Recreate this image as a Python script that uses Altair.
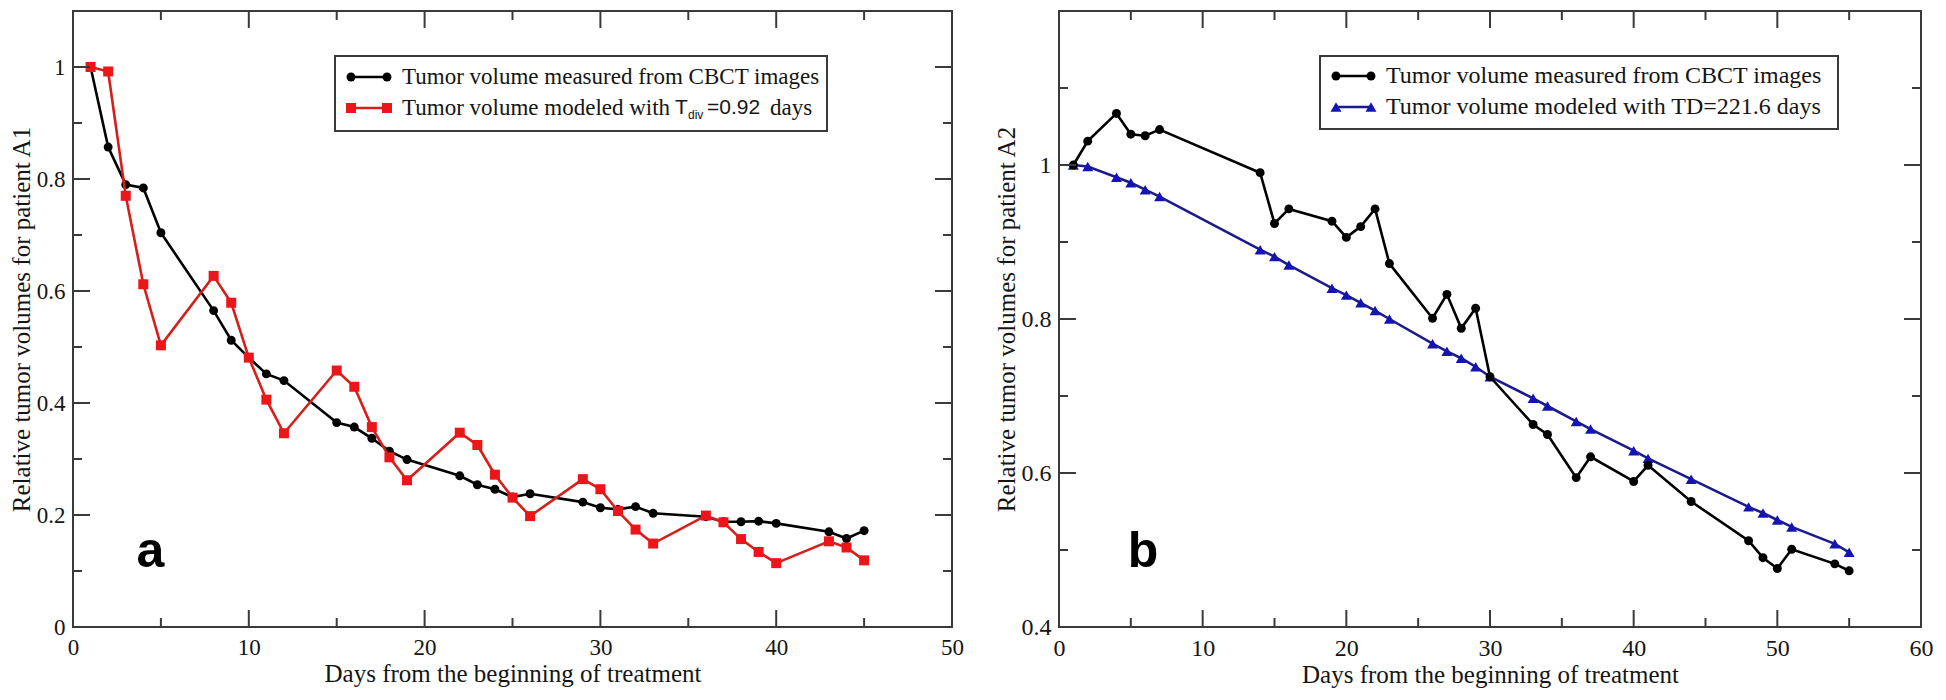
import altair as alt
import pandas as pd

# ---------------- data: panel a (patient A1) ----------------
A_DAYS = [1, 2, 3, 4, 5, 8, 9, 10, 11, 12, 15, 16, 17, 18, 19, 22, 23, 24, 25, 26,
          29, 30, 31, 32, 33, 36, 37, 38, 39, 40, 43, 44, 45]
A_MEASURED = [1.0, 0.857, 0.790, 0.784, 0.704, 0.565, 0.512, 0.481, 0.452, 0.440,
              0.365, 0.357, 0.337, 0.314, 0.299, 0.270, 0.254, 0.246, 0.232, 0.238,
              0.223, 0.213, 0.210, 0.215, 0.203, 0.197, 0.188, 0.188, 0.189, 0.185,
              0.170, 0.158, 0.172]
A_MODEL = [1.0, 0.992, 0.770, 0.612, 0.503, 0.627, 0.579, 0.481, 0.406, 0.346,
           0.458, 0.429, 0.357, 0.303, 0.262, 0.347, 0.325, 0.272, 0.231, 0.198,
           0.264, 0.246, 0.207, 0.174, 0.149, 0.199, 0.187, 0.157, 0.134, 0.114,
           0.153, 0.142, 0.119]

# ---------------- data: panel b (patient A2) ----------------
B_DAYS = [1, 2, 4, 5, 6, 7, 14, 15, 16, 19, 20, 21, 22, 23, 26, 27, 28, 29, 30,
          33, 34, 36, 37, 40, 41, 44, 48, 49, 50, 51, 54, 55]
B_MEASURED = [1.0, 1.031, 1.067, 1.040, 1.038, 1.046, 0.990, 0.924, 0.943, 0.927,
              0.906, 0.920, 0.943, 0.872, 0.801, 0.832, 0.788, 0.814, 0.725, 0.663,
              0.650, 0.594, 0.621, 0.589, 0.610, 0.563, 0.512, 0.490, 0.476, 0.501,
              0.482, 0.473]
B_MODEL = [1.0, 0.998, 0.984, 0.977, 0.968, 0.959, 0.890, 0.881, 0.870, 0.840,
           0.831, 0.821, 0.811, 0.800, 0.768, 0.758, 0.749, 0.738, 0.725, 0.697,
           0.687, 0.667, 0.657, 0.629, 0.619, 0.592, 0.556, 0.548, 0.539, 0.530,
           0.508, 0.497]

# ---------------- axes ----------------
A_X_MAJOR = [0, 10, 20, 30, 40, 50]
A_X_MINOR = [5, 15, 25, 35, 45]
A_Y_MAJOR = [0, 0.2, 0.4, 0.6, 0.8, 1.0]
A_Y_MINOR = [0.1, 0.3, 0.5, 0.7, 0.9]
B_X_MAJOR = [0, 10, 20, 30, 40, 50, 60]
B_X_MINOR = [5, 15, 25, 35, 45, 55]
B_Y_MAJOR = [0.4, 0.6, 0.8, 1.0]
B_Y_MINOR = [0.5, 0.7, 0.9, 1.1]

X_TITLE = "Days from the beginning of treatment"
A_Y_TITLE = "Relative tumor volumes for patient A1"
B_Y_TITLE = "Relative tumor volumes for patient A2"
LEG_MEASURED = "Tumor volume measured from CBCT images"
A_LEG_MODEL_PARTS = ["Tumor volume modeled with", "T", "div", "=0.92", "days"]
B_LEG_MODEL = "Tumor volume modeled with TD=221.6 days"

FRAME = "#3a3a3a"
TXT = "#151515"
SERIF = "Liberation Serif"
SANS = "Liberation Sans"
H = 616
A_W = 879
B_W = 862


def one():
    return pd.DataFrame({"k": [0]})


def xaxis(values, label_size):
    return alt.Axis(title=X_TITLE, values=values, format="d", ticks=False, domain=False,
                    grid=False, labelFont=SERIF, labelFontSize=label_size, labelColor=TXT,
                    labelPadding=9, labelFlush=False, titleFont=SERIF, titleFontSize=25,
                    titleFontWeight="normal", titleColor=TXT, titlePadding=2)


def yaxis(title, values, label_size):
    return alt.Axis(title=title, values=values, format="~g", ticks=False, domain=False,
                    grid=False, labelFont=SERIF, labelFontSize=label_size, labelColor=TXT,
                    labelPadding=8, labelFlush=False, titleFont=SERIF, titleFontSize=25,
                    titleFontWeight="normal", titleColor=TXT, titlePadding=2)


class Panel:
    def __init__(self, xs, ys, xax, yax, w, h):
        self.xs, self.ys, self.xax, self.yax, self.w, self.h = xs, ys, xax, yax, w, h

    def X(self, field="day"):
        return alt.X(f"{field}:Q", scale=self.xs, axis=self.xax)

    def Y(self, field="vol"):
        return alt.Y(f"{field}:Q", scale=self.ys, axis=self.yax)

    def ticks(self, vals, orient, length):
        w, h = self.w, self.h
        if orient in ("bottom", "top"):
            df = pd.DataFrame({"day": vals})
            base = alt.Chart(df).mark_rule(color=FRAME, strokeWidth=2)
            y0 = h if orient == "bottom" else 0
            y1 = h - length if orient == "bottom" else length
            return base.encode(x=self.X(), y=alt.value(y0), y2=alt.value(y1))
        df = pd.DataFrame({"vol": vals})
        base = alt.Chart(df).mark_rule(color=FRAME, strokeWidth=2)
        x0 = 0 if orient == "left" else w
        x1 = length if orient == "left" else w - length
        return base.encode(y=self.Y(), x=alt.value(x0), x2=alt.value(x1))

    def frame_ticks(self, xmaj, xmin, ymaj, ymin):
        layers = []
        for o in ("bottom", "top"):
            layers.append(self.ticks(xmaj, o, 17))
            layers.append(self.ticks(xmin, o, 9))
        for o in ("left", "right"):
            layers.append(self.ticks(ymaj, o, 17))
            layers.append(self.ticks(ymin, o, 9))
        return layers

    def series(self, days, vals, line_color, pt_color, shape, size):
        df = pd.DataFrame({"day": days, "vol": vals})
        line = alt.Chart(df).mark_line(color=line_color, strokeWidth=2.6).encode(
            x=self.X(), y=self.Y())
        pts = alt.Chart(df).mark_point(filled=True, opacity=1, shape=shape, size=size,
                                       color=pt_color).encode(x=self.X(), y=self.Y())
        return [line, pts]

    def letter(self, s, day, vol):
        df = pd.DataFrame({"day": [day], "vol": [vol], "t": [s]})
        return alt.Chart(df).mark_text(font=SANS, fontSize=50, fontWeight="bold", color="#000",
                                       align="center", baseline="alphabetic").encode(
            x=self.X(), y=self.Y(), text="t:N")


def legend_symbol(x0, x1, y, line_color, pt_color, shape, size):
    r = alt.Chart(one()).mark_rule(color=line_color, strokeWidth=2.6).encode(
        x=alt.value(x0), x2=alt.value(x1), y=alt.value(y))
    p1 = alt.Chart(one()).mark_point(filled=True, opacity=1, shape=shape, size=size,
                                     color=pt_color).encode(x=alt.value(x0), y=alt.value(y))
    p2 = alt.Chart(one()).mark_point(filled=True, opacity=1, shape=shape, size=size,
                                     color=pt_color).encode(x=alt.value(x1), y=alt.value(y))
    return [r, p1, p2]


def txt(s, x, y, font, size, dy=0):
    return alt.Chart(one()).mark_text(font=font, fontSize=size, color=TXT, align="left",
                                      baseline="middle", dy=dy).encode(
        x=alt.value(x), y=alt.value(y), text=alt.value(s))


def box(x0, x1, y0, y1):
    return alt.Chart(one()).mark_rect(fill="white", stroke=FRAME, strokeWidth=2).encode(
        x=alt.value(x0), x2=alt.value(x1), y=alt.value(y0), y2=alt.value(y1))


VIEW = alt.ViewBackground(stroke=FRAME, strokeWidth=2, fill="white")

# ---------------- panel a ----------------
pa = Panel(alt.Scale(domain=[0, 50], nice=False, zero=False),
           alt.Scale(domain=[0, 1.1], nice=False, zero=False),
           xaxis(A_X_MAJOR, 23), yaxis(A_Y_TITLE, A_Y_MAJOR, 23), A_W, H)
a_layers = []
a_layers += pa.series(A_DAYS, A_MEASURED, "#000000", "#000000", "circle", 80)
a_layers += pa.series(A_DAYS, A_MODEL, "#d41f1b", "#ec1519", "square", 100)
a_layers += pa.frame_ticks(A_X_MAJOR, A_X_MINOR, A_Y_MAJOR, A_Y_MINOR)
a_layers.append(box(262, 754, 45, 120))
a_layers += legend_symbol(278, 314, 66, "#000000", "#000000", "circle", 80)
a_layers += legend_symbol(278, 314, 97, "#d41f1b", "#ec1519", "square", 100)
a_layers.append(txt(LEG_MEASURED, 329, 66, SERIF, 23))
a_layers.append(txt(A_LEG_MODEL_PARTS[0], 329, 97, SERIF, 23))
a_layers.append(txt(A_LEG_MODEL_PARTS[1], 602, 97, SANS, 21))
a_layers.append(txt(A_LEG_MODEL_PARTS[2], 615, 97, SANS, 12, dy=7))
a_layers.append(txt(A_LEG_MODEL_PARTS[3], 634, 97, SANS, 21))
a_layers.append(txt(A_LEG_MODEL_PARTS[4], 697, 97, SERIF, 23))
a_layers.append(pa.letter("a", 4.4, 0.108))
panel_a = alt.layer(*a_layers).properties(width=A_W, height=H, view=VIEW)

# ---------------- panel b ----------------
pb = Panel(alt.Scale(domain=[0, 60], nice=False, zero=False),
           alt.Scale(domain=[0.4, 1.2], nice=False, zero=False),
           xaxis(B_X_MAJOR, 24), yaxis(B_Y_TITLE, B_Y_MAJOR, 24), B_W, H)
b_layers = []
b_layers += pb.series(B_DAYS, B_MODEL, "#1b1b8c", "#1414b4", "triangle-up", 120)
b_layers += pb.series(B_DAYS, B_MEASURED, "#000000", "#000000", "circle", 80)
b_layers += pb.frame_ticks(B_X_MAJOR, B_X_MINOR, B_Y_MAJOR, B_Y_MINOR)
b_layers.append(box(261, 779, 45, 118))
b_layers += legend_symbol(277, 312, 65, "#000000", "#000000", "circle", 80)
b_layers += legend_symbol(277, 312, 96, "#1b1b8c", "#1414b4", "triangle-up", 120)
b_layers.append(txt(LEG_MEASURED, 327, 65, SERIF, 24))
b_layers.append(txt(B_LEG_MODEL, 327, 96, SERIF, 24))
b_layers.append(pb.letter("b", 5.85, 0.478))
panel_b = alt.layer(*b_layers).properties(width=B_W, height=H, view=VIEW)

chart = alt.hconcat(panel_a, panel_b, spacing=28).properties(
    padding={"left": 0, "top": 1, "right": 0, "bottom": 0}
).configure(background="white")

chart.save("out.html", embed_options={"renderer": "svg", "actions": False})
